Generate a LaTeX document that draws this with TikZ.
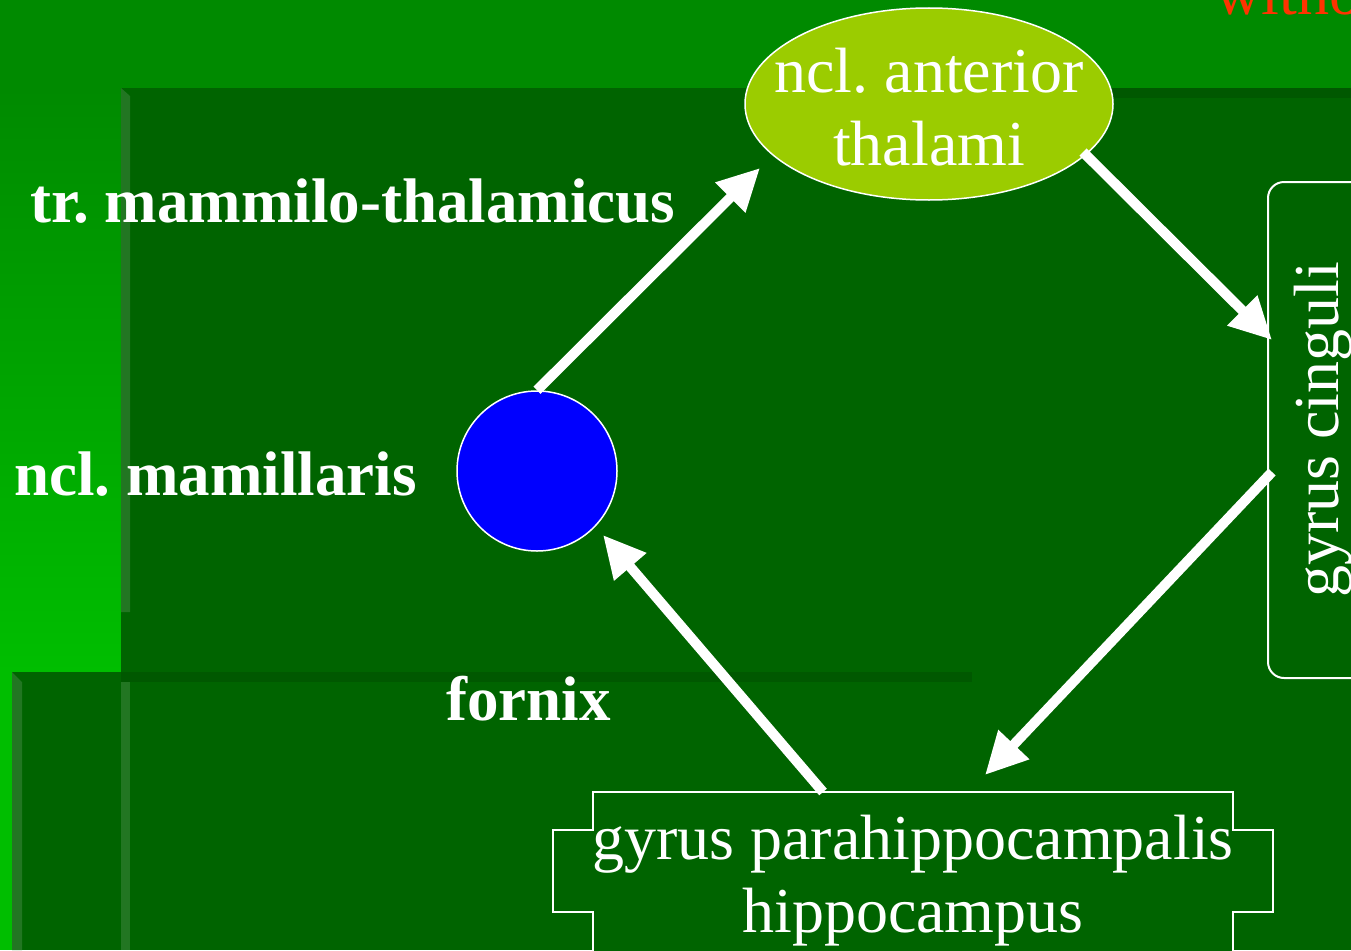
\documentclass[tikz,border=0pt]{standalone}
\usepackage{fontspec}
\setmainfont{Liberation Serif}
\usetikzlibrary{arrows.meta,shapes.geometric}
\frenchspacing
\definecolor{topgreen}{RGB}{0,138,0}
\definecolor{brightgreen}{RGB}{0,190,0}
\definecolor{darkgreen}{RGB}{0,100,0}
\definecolor{darkergreen}{RGB}{0,88,0}
\definecolor{bevel}{RGB}{34,118,34}
\definecolor{yellowgreen}{RGB}{155,204,0}
\definecolor{titlered}{RGB}{255,51,0}
\tikzset{
  lbl/.style={text=white,font=\fontsize{63}{68}\selectfont\bfseries,inner sep=0pt},
  boxtext/.style={text=white,font=\fontsize{64}{73}\selectfont,align=center,inner sep=0pt},
  flow/.style={draw=white,line width=10pt,-{Triangle[length=42pt,width=40pt]}},
}
\begin{document}
\begin{tikzpicture}[x=1pt,y=-1pt]
\useasboundingbox (0,0) rectangle (1351,950);
% background
\fill[topgreen] (0,0) rectangle (1351,950);
\shade[top color=topgreen,bottom color=brightgreen] (0,88) rectangle (121,672);
\fill[brightgreen] (0,672) rectangle (12,950);
\fill[darkgreen] (121,88) rectangle (1351,950);
\fill[darkgreen] (12,672) rectangle (121,950);
\fill[darkergreen] (1110,88) rectangle (1351,98);
\fill[darkergreen] (121,672) rectangle (972,682);
\fill[bevel] (121,88) -- (130,96) -- (130,612) -- (121,612) -- cycle;
\fill[bevel] (12,672) -- (22,682) -- (22,950) -- (12,950) -- cycle;
\fill[bevel] (121,682) rectangle (130,950);
% red title fragment
\begin{scope}
\clip (0,0) rectangle (1351,950);
\node[anchor=base west,inner sep=0pt,text=titlered,font=\fontsize{64}{72}\selectfont] (title) at (1215,15) {without};
\end{scope}
% nodes
\node[ellipse,draw=white,line width=1.5pt,fill=yellowgreen,minimum width=368pt,minimum height=192pt,inner sep=0pt] (ant) at (929,104) {};
\node[boxtext] (anttext) at (929,107) {ncl. anterior\\thalami};
\node[circle,draw=white,line width=1.5pt,fill=blue,minimum size=160pt,inner sep=0pt] (mam) at (537,471) {};
\draw[white,line width=2pt,rounded corners=16pt,fill=darkgreen] (1400,182) -- (1268,182) -- (1268,678) -- (1400,678);
\node[coordinate] (cingtop) at (1268,182) {};
\node[boxtext,rotate=90] (cing) at (1323,430) {gyrus cinguli};
\draw[white,line width=2pt,fill=darkgreen] (593,960) -- (593,912) -- (553,912) -- (553,830) -- (593,830) -- (593,792) -- (1233,792) -- (1233,830) -- (1273,830) -- (1273,912) -- (1233,912) -- (1233,960);
\node[boxtext] (para) at (913,881) {gyrus parahippocampalis\\hippocampus};
% labels
\node[lbl,anchor=base west] (trlbl) at (30,222) {tr. mammilo-thalamicus};
\node[lbl,anchor=base west] (mamlbl) at (14,495) {ncl. mamillaris};
\node[lbl,anchor=base west] (fornlbl) at (446,720) {fornix};
% connector endpoints
\coordinate (a1e) at (760,168);
\coordinate (a2s) at (1083,152);
\coordinate (a2e) at (1272,340);
\coordinate (a3s) at (1272,472);
\coordinate (a3e) at (985,775);
\coordinate (a4s) at (823,792);
\coordinate (a4e) at (603,535);
% arrows
\draw[flow] (mam.north) -- (a1e);
\draw[flow] (a2s) -- (a2e);
\draw[flow] (a3s) -- (a3e);
\draw[flow] (a4s) -- (a4e);
\end{tikzpicture}
\end{document}
